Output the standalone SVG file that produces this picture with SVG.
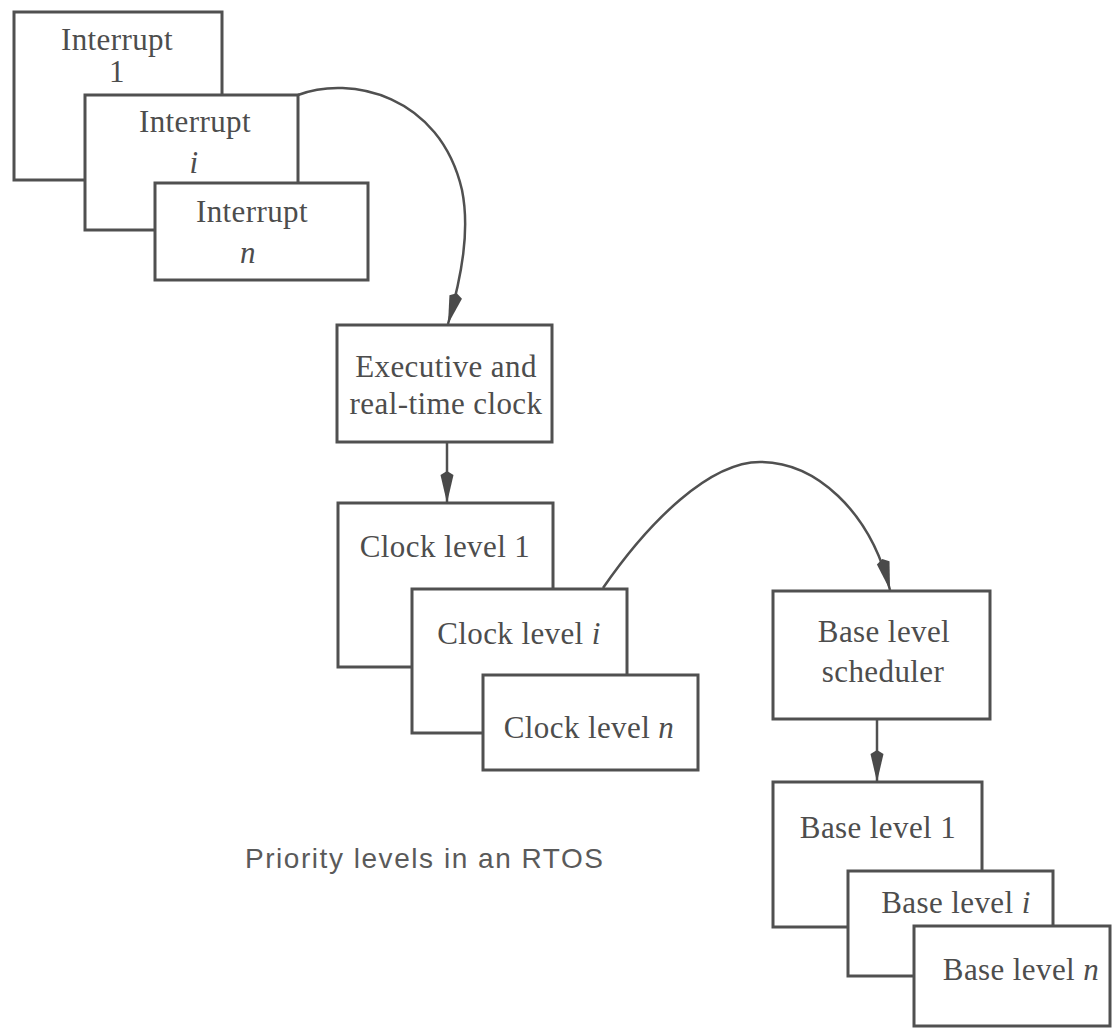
<svg xmlns="http://www.w3.org/2000/svg" width="1113" height="1028" viewBox="0 0 1113 1028">
  <style>
    .box { fill: #ffffff; stroke: #505050; stroke-width: 3; }
    .lbl { font-family: "Liberation Serif", "Times New Roman", serif; font-size: 31px; letter-spacing: 0.4px; fill: #4d4d4d; text-anchor: middle; }
    .it { font-style: italic; }
    .cap { font-family: "Liberation Sans", Arial, sans-serif; font-size: 28px; fill: #5a5a5a; }
    .wire { fill: none; stroke: #505050; stroke-width: 2.5; }
  </style>
  <defs>
    <marker id="arrow" markerUnits="userSpaceOnUse" markerWidth="34" markerHeight="16" refX="32" refY="8" orient="auto">
      <path d="M0,8 L4,1.5 L32,8 L4,14.5 Z" fill="#4a4a4a"/>
    </marker>
  </defs>
  <rect width="1113" height="1028" fill="#ffffff"/>

  <!-- interrupt levels -->
  <g id="interrupt-1">
    <rect class="box" x="14" y="12" width="208" height="168"/>
    <text class="lbl" x="117" y="50">Interrupt</text>
    <text class="lbl" x="117" y="82">1</text>
  </g>
  <g id="interrupt-i">
    <rect class="box" x="85" y="95" width="213" height="135"/>
    <text class="lbl" x="195" y="132">Interrupt</text>
    <text class="lbl it" x="194" y="173">i</text>
  </g>
  <g id="interrupt-n">
    <rect class="box" x="155" y="183" width="213" height="97"/>
    <text class="lbl" x="252" y="222">Interrupt</text>
    <text class="lbl it" x="248" y="263">n</text>
  </g>

  <!-- executive -->
  <g id="executive">
    <rect class="box" x="337" y="325" width="215" height="117"/>
    <text class="lbl" x="446" y="377">Executive and</text>
    <text class="lbl" x="446" y="414">real-time clock</text>
  </g>

  <!-- clock levels -->
  <g id="clock-1">
    <rect class="box" x="338" y="503" width="215" height="164"/>
    <text class="lbl" x="445" y="557">Clock level 1</text>
  </g>
  <g id="clock-i">
    <rect class="box" x="412" y="589" width="215" height="144"/>
    <text class="lbl" x="519" y="644">Clock level <tspan class="it">i</tspan></text>
  </g>
  <g id="clock-n">
    <rect class="box" x="483" y="675" width="215" height="95"/>
    <text class="lbl" x="589" y="738">Clock level <tspan class="it">n</tspan></text>
  </g>

  <!-- base level -->
  <g id="scheduler">
    <rect class="box" x="773" y="591" width="217" height="128"/>
    <text class="lbl" x="884" y="642">Base level</text>
    <text class="lbl" x="883" y="682">scheduler</text>
  </g>
  <g id="base-1">
    <rect class="box" x="773" y="782" width="209" height="145"/>
    <text class="lbl" x="878" y="838">Base level 1</text>
  </g>
  <g id="base-i">
    <rect class="box" x="848" y="871" width="205" height="105"/>
    <text class="lbl" x="956" y="913">Base level <tspan class="it">i</tspan></text>
  </g>
  <g id="base-n">
    <rect class="box" x="914" y="926" width="196" height="100"/>
    <text class="lbl" x="1021" y="980">Base level <tspan class="it">n</tspan></text>
  </g>

  <!-- connectors -->
  <g id="connectors">
    <path class="wire" d="M298,95 C350,75 440,95 462,190 C470,230 462,275 448,324" marker-end="url(#arrow)"/>
    <path class="wire" d="M447,442 L447,503" marker-end="url(#arrow)"/>
    <path class="wire" d="M603,588 C650,520 710,462 760,462 C815,462 870,510 890,590" marker-end="url(#arrow)"/>
    <path class="wire" d="M877,719 L877,782" marker-end="url(#arrow)"/>
  </g>

  <text class="cap" x="245" y="868" textLength="358" lengthAdjust="spacing">Priority levels in an RTOS</text>
</svg>
